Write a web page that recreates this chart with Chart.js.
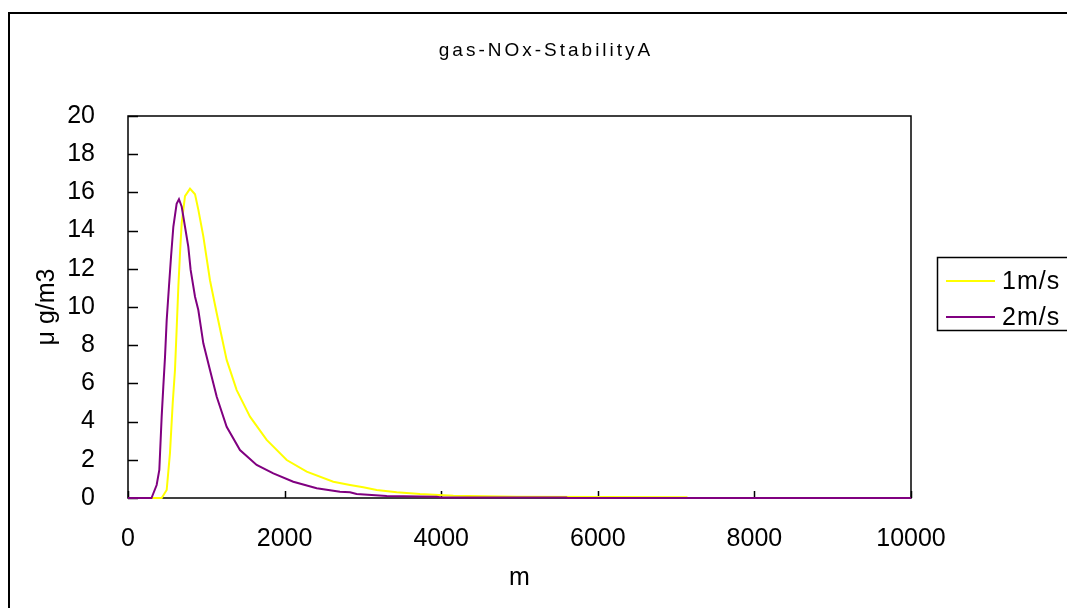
<!DOCTYPE html>
<html>
<head>
<meta charset="utf-8">
<script src="https://cdn.jsdelivr.net/npm/chart.js@4/dist/chart.umd.min.js"></script>
<style>
  html, body { margin: 0; padding: 0; background: #fff; }
  #wrap { width: 1067px; height: 608px; position: relative; }
</style>
</head>
<body>
<div id="wrap"><canvas id="c" width="1067" height="608"></canvas></div>
<script>
// ---- data ----
const chartTitle = 'gas-NOx-StabilityA';
const xTitle = 'm';
const yTitle = 'μ g/m3';
const seriesNames = ['1m/s', '2m/s'];
const seriesColors = ['#FFFF00', '#800080'];

const xTickValues = [0, 2000, 4000, 6000, 8000, 10000];
const yTickValues = [0, 2, 4, 6, 8, 10, 12, 14, 16, 18, 20];

const dist1 = [0, 430, 494, 536, 571, 600, 621, 643, 664, 686, 728, 792, 856, 898, 962, 1047, 1133, 1260, 1388, 1558, 1771, 2027, 2282, 2622, 2835, 3005, 3176, 3432, 3729, 4155, 4964, 7135, 7140, 10000];
const conc1 = [0, 0, 0.42, 2.35, 4.96, 6.7, 8.8, 11.06, 12.8, 14.4, 15.8, 16.2, 15.9, 15.1, 13.7, 11.4, 9.67, 7.23, 5.65, 4.26, 3.04, 1.99, 1.38, 0.85, 0.68, 0.56, 0.42, 0.3, 0.21, 0.12, 0.07, 0.04, 0, 0];

const dist2 = [0, 300, 366, 400, 430, 451, 473, 494, 523, 549, 579, 621, 651, 686, 728, 770, 800, 856, 898, 962, 1047, 1133, 1260, 1430, 1643, 1856, 2111, 2410, 2707, 2835, 2920, 3304, 3943, 4000, 5600, 5610, 10000];
const conc2 = [0, 0, 0.68, 1.47, 4.26, 5.83, 7.4, 9.3, 11.06, 12.6, 14.2, 15.4, 15.64, 15.25, 14.2, 13.16, 11.94, 10.54, 9.84, 8.1, 6.7, 5.3, 3.73, 2.51, 1.73, 1.29, 0.85, 0.51, 0.33, 0.3, 0.21, 0.1, 0.07, 0.03, 0.02, 0, 0];

function pts(xs, ys) { return xs.map((x, i) => ({ x: x, y: ys[i] })); }

const FONT = "'Liberation Sans', Arial, sans-serif";

const framePlugin = {
  id: 'frame',
  beforeDatasetsDraw(chart) {
    const { ctx, chartArea: a, scales } = chart;
    ctx.save();
    ctx.strokeStyle = '#000';
    ctx.lineWidth = 1.5;
    ctx.strokeRect(a.left, a.top, a.right - a.left, a.bottom - a.top);
    ctx.beginPath();
    yTickValues.forEach(v => {
      const y = Math.round(scales.y.getPixelForValue(v)) + 0.5;
      ctx.moveTo(a.left, y); ctx.lineTo(a.left + 10, y);
    });
    xTickValues.forEach(v => {
      const x = Math.round(scales.x.getPixelForValue(v)) + 0.5;
      ctx.moveTo(x, a.bottom); ctx.lineTo(x, a.bottom - 7);
    });
    ctx.stroke();
    ctx.restore();
  },
  afterDraw(chart) {
    const { ctx } = chart;
    ctx.save();
    // outer chart border
    ctx.strokeStyle = '#000';
    ctx.lineWidth = 2;
    ctx.strokeRect(9, 13, 1100, 640);
    // title
    ctx.fillStyle = '#000';
    ctx.font = '19px ' + FONT;
    if ('letterSpacing' in ctx) ctx.letterSpacing = '3px';
    ctx.textAlign = 'center';
    ctx.textBaseline = 'alphabetic';
    ctx.fillText(chartTitle, 546, 56);
    if ('letterSpacing' in ctx) ctx.letterSpacing = '0px';
    // legend
    ctx.lineWidth = 1.5;
    ctx.strokeRect(937.5, 257.5, 200, 73);
    const rows = [281, 317];
    ctx.font = '25px ' + FONT;
    ctx.textAlign = 'left';
    ctx.textBaseline = 'middle';
    if ('letterSpacing' in ctx) ctx.letterSpacing = '1px';
    seriesNames.forEach((name, i) => {
      ctx.strokeStyle = seriesColors[i];
      ctx.lineWidth = 2;
      ctx.beginPath();
      ctx.moveTo(946, rows[i]); ctx.lineTo(995, rows[i]);
      ctx.stroke();
      ctx.fillStyle = '#000';
      ctx.fillText(name, 1002, rows[i] + 1);
    });
    ctx.restore();
  }
};

new Chart(document.getElementById('c'), {
  type: 'scatter',
  data: {
    datasets: [
      { label: seriesNames[0], data: pts(dist1, conc1), showLine: true, borderColor: seriesColors[0], backgroundColor: seriesColors[0], borderWidth: 2, pointRadius: 0, tension: 0, order: 2, clip: 3 },
      { label: seriesNames[1], data: pts(dist2, conc2), showLine: true, borderColor: seriesColors[1], backgroundColor: seriesColors[1], borderWidth: 2, pointRadius: 0, tension: 0, order: 1, clip: 3 }
    ]
  },
  options: {
    responsive: false,
    animation: false,
    devicePixelRatio: 1,
    layout: { padding: { left: 10, right: 156, top: 116, bottom: 0 } },
    plugins: { legend: { display: false }, title: { display: false }, tooltip: { enabled: false } },
    scales: {
      x: {
        type: 'linear', min: 0, max: 10000,
        afterFit: s => { s.height = 110; },
        afterBuildTicks: s => { s.ticks = xTickValues.map(v => ({ value: v })); },
        grid: { display: false, drawTicks: false },
        border: { display: false },
        ticks: { color: '#000', font: { family: FONT, size: 25 }, padding: 26, maxRotation: 0, autoSkip: false, callback: v => String(v) },
        title: { display: true, text: xTitle, color: '#000', font: { family: FONT, size: 25 }, padding: { top: 0, bottom: 15 } }
      },
      y: {
        type: 'linear', min: 0, max: 20,
        afterFit: s => { s.width = 118; },
        afterBuildTicks: s => { s.ticks = yTickValues.map(v => ({ value: v })); },
        grid: { display: false, drawTicks: false },
        border: { display: false },
        ticks: { color: '#000', font: { family: FONT, size: 25 }, padding: 33, autoSkip: false, callback: v => String(v) },
        title: { display: true, text: yTitle, color: '#000', font: { family: FONT, size: 25 }, padding: { top: 22, bottom: 0 } }
      }
    }
  },
  plugins: [framePlugin]
});
</script>
</body>
</html>
